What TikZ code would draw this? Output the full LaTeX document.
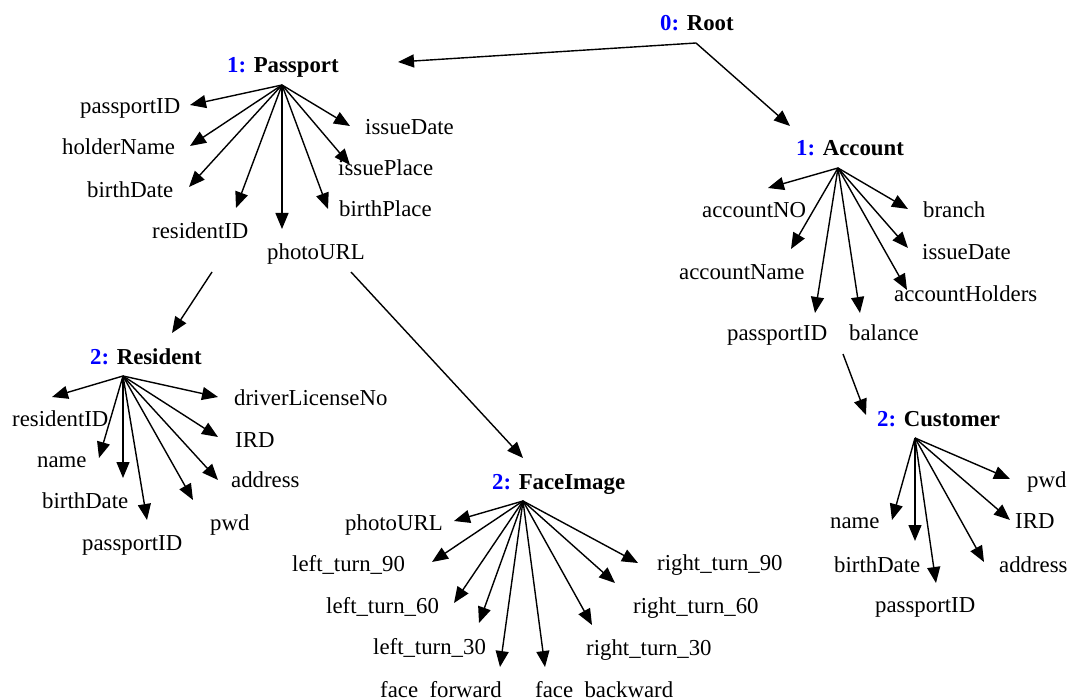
\documentclass[tikz,border=0pt]{standalone}
\usepackage{fontspec}
\setmainfont{Liberation Serif}
\usetikzlibrary{arrows.meta}
\definecolor{lvl}{RGB}{0,0,255}
\begin{document}
\begin{tikzpicture}[x=1pt,y=-1pt,
  field/.style={anchor=base west,inner sep=0pt,font=\fontsize{22.8}{26}\selectfont},
  title/.style={anchor=base west,inner sep=0pt,font=\fontsize{22.8}{26}\selectfont\bfseries},
  link/.style={line width=1.4pt,-{Triangle[length=16pt,width=13pt]}}]
\useasboundingbox (0,0) rectangle (1072,698);

% ---------- level titles ----------
\node[title] (root)     at (660,31)  {\textcolor{lvl}{0:} Root};
\node[title] (passport) at (227,73)  {\textcolor{lvl}{1:} Passport};
\node[title] (account)  at (796,156) {\textcolor{lvl}{1:} Account};
\node[title] (resident) at (90,364)  {\textcolor{lvl}{2:} Resident};
\node[title] (face)     at (492,489) {\textcolor{lvl}{2:} FaceImage};
\node[title] (customer) at (877,426) {\textcolor{lvl}{2:} Customer};

% fan-out points under each title
\coordinate (root-hub)     at (696,43);
\coordinate (passport-hub) at (282,85);
\coordinate (account-hub)  at (838,168);
\coordinate (resident-hub) at (123,376);
\coordinate (face-hub)     at (523,501);
\coordinate (customer-hub) at (915,438);

% ---------- Passport fields ----------
\node[field] (p-pid)   at (80,114)  {passportID};
\node[field] (p-hold)  at (62,155)  {holderName};
\node[field] (p-birth) at (87,197)  {birthDate};
\node[field] (p-res)   at (152,238) {residentID};
\node[field] (p-photo) at (267,259) {photoURL};
\node[field] (p-bpl)   at (339,217) {birthPlace};
\node[field] (p-ipl)   at (338,176) {issuePlace};
\node[field] (p-idate) at (365,135) {issueDate};
\coordinate (p-pid-t)   at (190,105);
\coordinate (p-hold-t)  at (190,146);
\coordinate (p-birth-t) at (189,187);
\coordinate (p-res-t)   at (236,208);
\coordinate (p-photo-t) at (282,229);
\coordinate (p-bpl-t)   at (328,209);
\coordinate (p-ipl-t)   at (350,165);
\coordinate (p-idate-t) at (350,126);
\foreach \f in {pid,hold,birth,res,photo,bpl,ipl,idate}
  \draw[link] (passport-hub) -- (p-\f-t);

% ---------- Account fields ----------
\node[field] (a-no)     at (702,218) {accountNO};
\node[field] (a-name)   at (679,279) {accountName};
\node[field] (a-pid)    at (727,340) {passportID};
\node[field] (a-bal)    at (849,340) {balance};
\node[field] (a-hold)   at (894,301) {accountHolders};
\node[field] (a-idate)  at (922,259) {issueDate};
\node[field] (a-branch) at (923,218) {branch};
\coordinate (a-no-t)     at (768,188);
\coordinate (a-name-t)   at (791,249);
\coordinate (a-pid-t)    at (815,313);
\coordinate (a-bal-t)    at (860,313);
\coordinate (a-hold-t)   at (907,290);
\coordinate (a-idate-t)  at (908,248);
\coordinate (a-branch-t) at (908,209);
\foreach \f in {no,name,pid,bal,hold,idate,branch}
  \draw[link] (account-hub) -- (a-\f-t);

% ---------- Resident fields ----------
\node[field] (r-rid)   at (12,426)  {residentID};
\node[field] (r-name)  at (37,467)  {name};
\node[field] (r-birth) at (42,508)  {birthDate};
\node[field] (r-pid)   at (82,550)  {passportID};
\node[field] (r-pwd)   at (210,530) {pwd};
\node[field] (r-addr)  at (231,487) {address};
\node[field] (r-ird)   at (235,447) {IRD};
\node[field] (r-dl)    at (234,405) {driverLicenseNo};
\coordinate (r-rid-t)   at (52,397);
\coordinate (r-name-t)  at (99,458);
\coordinate (r-birth-t) at (123,478);
\coordinate (r-pid-t)   at (147,520);
\coordinate (r-pwd-t)   at (193,500);
\coordinate (r-addr-t)  at (218,480);
\coordinate (r-ird-t)   at (218,437);
\coordinate (r-dl-t)    at (218,397);
\foreach \f in {rid,name,birth,pid,pwd,addr,ird,dl}
  \draw[link] (resident-hub) -- (r-\f-t);

% ---------- FaceImage fields ----------
\node[field] (f-photo) at (345,530) {photoURL};
\node[field] (f-l90)   at (292,571) {left\_turn\_90};
\node[field] (f-l60)   at (326,613) {left\_turn\_60};
\node[field] (f-l30)   at (373,654) {left\_turn\_30};
\node[field] (f-fwd)   at (380,697.5) {face\_forward};
\node[field] (f-bwd)   at (535,697.5) {face\_backward};
\node[field] (f-r30)   at (586,655) {right\_turn\_30};
\node[field] (f-r60)   at (633,613) {right\_turn\_60};
\node[field] (f-r90)   at (657,570) {right\_turn\_90};
\coordinate (f-photo-t) at (454,521);
\coordinate (f-l90-t)   at (432,562);
\coordinate (f-l60-t)   at (454,603);
\coordinate (f-l30-t)   at (479,623);
\coordinate (f-fwd-t)   at (500,667);
\coordinate (f-bwd-t)   at (545,667);
\coordinate (f-r30-t)   at (592,625);
\coordinate (f-r60-t)   at (615,583);
\coordinate (f-r90-t)   at (638,563);
\foreach \f in {photo,l90,l60,l30,fwd,bwd,r30,r60,r90}
  \draw[link] (face-hub) -- (f-\f-t);

% ---------- Customer fields ----------
\node[field] (c-name)  at (830,528)  {name};
\node[field] (c-birth) at (834,572)  {birthDate};
\node[field] (c-pid)   at (875,612)  {passportID};
\node[field] (c-addr)  at (999,572)  {address};
\node[field] (c-ird)   at (1015,528) {IRD};
\node[field] (c-pwd)   at (1027,487) {pwd};
\coordinate (c-name-t)  at (892,520);
\coordinate (c-birth-t) at (915,541);
\coordinate (c-pid-t)   at (936,583);
\coordinate (c-addr-t)  at (984,562);
\coordinate (c-ird-t)   at (1010,520);
\coordinate (c-pwd-t)   at (1010,479);
\foreach \f in {name,birth,pid,addr,ird,pwd}
  \draw[link] (customer-hub) -- (c-\f-t);

% ---------- links between levels ----------
\coordinate (root-to-passport) at (398,62);
\coordinate (root-to-account)  at (790,126);
\draw[link] (root-hub) -- (root-to-passport);
\draw[link] (root-hub) -- (root-to-account);

\coordinate (res-from)  at (212,272);
\coordinate (res-to)    at (172,333);
\coordinate (face-from) at (351,272);
\coordinate (face-to)   at (523,458);
\coordinate (cust-from) at (843,354);
\coordinate (cust-to)   at (866,415);
\draw[link] (res-from)  -- (res-to);
\draw[link] (face-from) -- (face-to);
\draw[link] (cust-from) -- (cust-to);
\end{tikzpicture}
\end{document}
